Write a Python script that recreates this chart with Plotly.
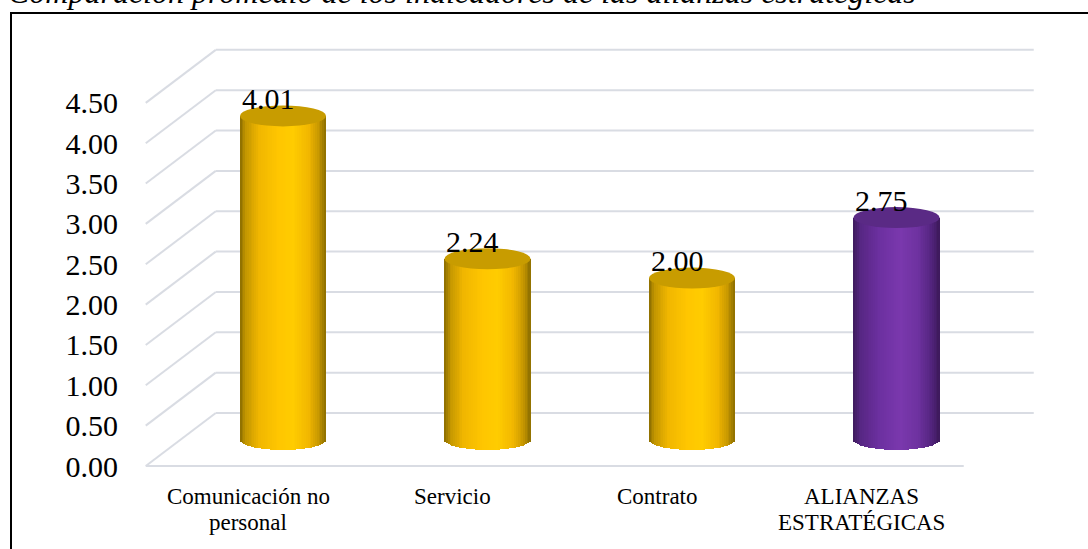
import numpy as np
import plotly.graph_objects as go

# ---- data ----
categories = ["Comunicación no<br>personal", "Servicio", "Contrato", "ALIANZAS<br>ESTRATÉGICAS"]
values = [4.01, 2.24, 2.00, 2.75]
tick_values = [0.0, 0.5, 1.0, 1.5, 2.0, 2.5, 3.0, 3.5, 4.0, 4.5]
title_text = "Comparación promedio de los indicadores de las alianzas estratégicas"

# ---- styling ----
W, H = 1088, 549
SERIF = "Liberation Serif, Times New Roman, serif"
GRID = "#d9dce3"

gold_stops = [(0.0, "#8a6c00"), (0.07, "#c39600"), (0.22, "#f0b600"), (0.45, "#ffc600"),
              (0.62, "#ffcc00"), (0.80, "#f2b700"), (0.92, "#c59600"), (1.0, "#8c6e00")]
purple_stops = [(0.0, "#3d1a5c"), (0.08, "#562682"), (0.30, "#6c30a0"), (0.55, "#7a38ad"),
                (0.75, "#6e32a0"), (0.90, "#552580"), (1.0, "#3c195a")]
gold_cap = "#c89c00"
purple_cap = "#5a2a85"
bar_styles = [(gold_stops, gold_cap)] * 3 + [(purple_stops, purple_cap)]

# 3D geometry (axis units): category pitch in px and value scale in px
PX_PER_CAT = 204.5
PX_PER_VAL = 80.7
X_CENTER0 = 283.0      # px of first category at mid depth
Y_ZERO = 439.5         # px of value 0 at mid depth
depth_x = 35.0 / PX_PER_CAT    # half-depth offset along x
depth_y = 26.5 / PX_PER_VAL    # half-depth offset along y
half_w = 43.0 / PX_PER_CAT     # cylinder radius
cap_b = 10.5 / PX_PER_VAL      # ellipse semi-axis (vertical)

x_range = [-X_CENTER0 / PX_PER_CAT, (W - X_CENTER0) / PX_PER_CAT]
y_range = [(Y_ZERO - H) / PX_PER_VAL, Y_ZERO / PX_PER_VAL]


def lerp_color(stops, t):
    for (t0, c0), (t1, c1) in zip(stops[:-1], stops[1:]):
        if t <= t1:
            f = 0 if t1 == t0 else (t - t0) / (t1 - t0)
            a = [int(c0[i:i + 2], 16) for i in (1, 3, 5)]
            b = [int(c1[i:i + 2], 16) for i in (1, 3, 5)]
            r = [round(a[k] + (b[k] - a[k]) * f) for k in range(3)]
            return "rgb(%d,%d,%d)" % tuple(r)
    return stops[-1][1]


fig = go.Figure()

# cylinder bodies: thin shaded strips with an elliptical bottom edge
N = 48
shapes = []
for i, (val, (stops, cap)) in enumerate(zip(values, bar_styles)):
    edges = np.linspace(-half_w, half_w, N + 1)
    mids = (edges[:-1] + edges[1:]) / 2
    sw = edges[1] - edges[0]
    u = mids / half_w
    base = -cap_b * np.sqrt(np.clip(1 - u ** 2, 0, 1))
    colors = [lerp_color(stops, (m + half_w) / (2 * half_w)) for m in mids]
    fig.add_trace(go.Bar(
        x=i + mids, y=val - base, base=base, width=sw * 1.25,
        marker=dict(color=colors, line=dict(width=0)),
        hoverinfo="skip", showlegend=False,
    ))
    # top cap
    shapes.append(dict(type="circle", xref="x", yref="y",
                       x0=i - half_w, x1=i + half_w, y0=val - cap_b, y1=val + cap_b,
                       fillcolor=cap, line=dict(width=0), layer="above"))

# walls: back gridlines with left side-wall diagonals, plus front floor edge
left = -0.5
right = len(categories) - 0.5
for v in tick_values:
    shapes.append(dict(type="line", xref="x", yref="y", layer="below",
                       x0=left - depth_x, y0=v - depth_y, x1=left + depth_x, y1=v + depth_y,
                       line=dict(color=GRID, width=2)))
    shapes.append(dict(type="line", xref="x", yref="y", layer="below",
                       x0=left + depth_x, y0=v + depth_y, x1=right + depth_x, y1=v + depth_y,
                       line=dict(color=GRID, width=2)))
shapes.append(dict(type="line", xref="x", yref="y", layer="below",
                   x0=left - depth_x, y0=-depth_y, x1=right - depth_x, y1=-depth_y,
                   line=dict(color=GRID, width=2)))

# outer frame
shapes.append(dict(type="rect", xref="paper", yref="paper",
                   x0=11 / W, x1=1.2, y0=-0.2, y1=1 - 13 / H,
                   line=dict(color="black", width=2), fillcolor="rgba(0,0,0,0)", layer="above"))

annotations = []
# value labels
for i, val in enumerate(values):
    annotations.append(dict(x=i, y=val, xref="x", yref="y", text=f"{val:.2f}",
                            showarrow=False, xanchor="center", yanchor="bottom",
                            xshift=-15, yshift=-1,
                            font=dict(family=SERIF, size=30, color="black")))
# category labels (front plane), one line per annotation
for i, cat in enumerate(categories):
    for k, line in enumerate(cat.split("<br>")):
        annotations.append(dict(x=i - depth_x, y=1 - (496 + 26 * k) / H, xref="x", yref="paper",
                                text=line, showarrow=False, xanchor="center", yanchor="middle",
                                font=dict(family=SERIF, size=23, color="black")))
# title
annotations.append(dict(x=6 / W, y=1 - 12 / H, xref="paper", yref="paper",
                        text=f"<i>{title_text}</i>", showarrow=False,
                        xanchor="left", yanchor="bottom",
                        font=dict(family=SERIF, size=32, color="black")))

fig.update_layout(
    width=W, height=H,
    margin=dict(l=0, r=0, t=0, b=0),
    paper_bgcolor="white", plot_bgcolor="white",
    barmode="overlay", bargap=0,
    shapes=shapes, annotations=annotations,
    showlegend=False,
    xaxis=dict(range=x_range, visible=False, fixedrange=True),
    yaxis=dict(range=y_range, showgrid=False, zeroline=False, showticklabels=False,
               showline=False, ticks="", fixedrange=True),
    # value axis drawn on the front plane
    yaxis2=dict(range=[y_range[0] + depth_y, y_range[1] + depth_y], overlaying="y",
                anchor="free", position=118 / W, side="left",
                tickvals=tick_values, ticktext=[f"{t:.2f}" for t in tick_values],
                tickfont=dict(family=SERIF, size=30, color="black"),
                showgrid=False, zeroline=False, showline=False, ticks="", fixedrange=True),
)
# attach an invisible trace to the front-plane axis so its ticks render
fig.add_trace(go.Scatter(x=[0], y=[0], yaxis="y2", mode="markers",
                         marker=dict(opacity=0), hoverinfo="skip", showlegend=False))

fig.write_html("out.html")
